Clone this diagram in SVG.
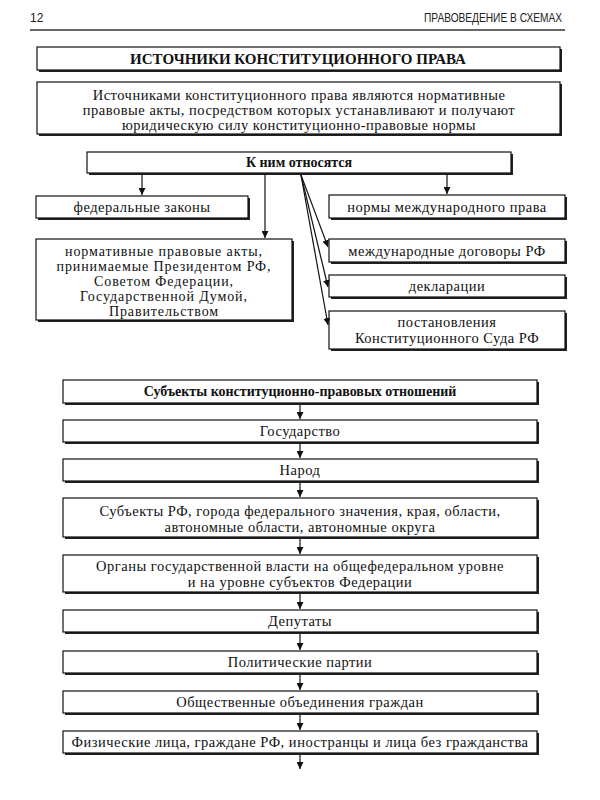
<svg xmlns="http://www.w3.org/2000/svg" width="600" height="800" viewBox="0 0 600 800">
<style>
.bx{fill:#fff;stroke:#111;stroke-width:1.2}
.sh{fill:#222}
.t{font-family:"Liberation Serif","Times New Roman",serif;font-size:14.5px;letter-spacing:0.5px;fill:#111;text-anchor:middle}
.s{font-size:14px;letter-spacing:0.9px}
.b{font-weight:bold;letter-spacing:0}
.hd{font-family:"Liberation Sans",Arial,sans-serif;font-size:12px;fill:#222}
.c{stroke:#111;stroke-width:1.2;fill:none;marker-end:url(#ah)}
</style>
<defs>
<marker id="ah" viewBox="0 0 10 10" refX="10" refY="5" markerWidth="7" markerHeight="7" markerUnits="userSpaceOnUse" orient="auto">
<path d="M0,0 L10,5 L0,10 Z" fill="#111"/>
</marker>
</defs>
<rect width="600" height="800" fill="#fff"/>
<g id="header">
<text class="hd" x="30" y="22">12</text>
<text class="hd" x="562" y="22" text-anchor="end" textLength="138" lengthAdjust="spacingAndGlyphs">ПРАВОВЕДЕНИЕ В СХЕМАХ</text>
<line x1="30" y1="30" x2="565" y2="30" stroke="#666" stroke-width="2"/>
</g>
<g id="title">
<rect class="sh" x="39" y="49" width="523" height="23"/>
<rect class="bx" x="37" y="47" width="523" height="23"/>
<text class="t b" x="298" y="64" style="font-size:15px">ИСТОЧНИКИ КОНСТИТУЦИОННОГО ПРАВА</text>
</g>
<g id="definition">
<rect class="sh" x="39" y="84" width="523" height="52"/>
<rect class="bx" x="37" y="82" width="523" height="52"/>
<text class="t" x="299" y="100">Источниками конституционного права являются нормативные</text>
<text class="t" x="299" y="115">правовые акты, посредством которых устанавливают и получают</text>
<text class="t" x="299" y="130">юридическую силу конституционно-правовые нормы</text>
</g>
<g id="include">
<rect class="sh" x="89" y="154" width="424" height="21"/>
<rect class="bx" x="87" y="152" width="424" height="21"/>
<text class="t b" x="299" y="167" style="font-size:14px">К ним относятся</text>
</g>
<g id="federal">
<rect class="sh" x="38" y="198" width="212" height="22"/>
<rect class="bx" x="36" y="196" width="212" height="22"/>
<text class="t" x="142" y="212">федеральные законы</text>
</g>
<g id="acts">
<rect class="sh" x="38" y="241" width="256" height="81"/>
<rect class="bx" x="36" y="239" width="256" height="81"/>
<text class="t s" x="164" y="256">нормативные правовые акты,</text>
<text class="t s" x="164" y="271">принимаемые Президентом РФ,</text>
<text class="t s" x="164" y="286">Советом Федерации,</text>
<text class="t s" x="164" y="301">Государственной Думой,</text>
<text class="t s" x="164" y="316">Правительством</text>
</g>
<g id="intl">
<rect class="sh" x="331" y="197" width="236" height="23"/>
<rect class="bx" x="329" y="195" width="236" height="23"/>
<text class="t" x="447" y="212">нормы международного права</text>
</g>
<g id="treaties">
<rect class="sh" x="331" y="241" width="236" height="23"/>
<rect class="bx" x="329" y="239" width="236" height="23"/>
<text class="t" x="447" y="256">международные договоры РФ</text>
</g>
<g id="declarations">
<rect class="sh" x="331" y="277" width="236" height="22"/>
<rect class="bx" x="329" y="275" width="236" height="22"/>
<text class="t" x="447" y="291">декларации</text>
</g>
<g id="court">
<rect class="sh" x="331" y="313" width="236" height="38"/>
<rect class="bx" x="329" y="311" width="236" height="38"/>
<text class="t" x="447" y="327">постановления</text>
<text class="t" x="447" y="343">Конституционного Суда РФ</text>
</g>
<g id="subjects-title">
<rect class="sh" x="65" y="382" width="474" height="23"/>
<rect class="bx" x="63" y="380" width="474" height="23"/>
<text class="t b" x="300" y="396" style="font-size:14px">Субъекты конституционно-правовых отношений</text>
</g>
<g id="state">
<rect class="sh" x="65" y="422" width="474" height="22"/>
<rect class="bx" x="63" y="420" width="474" height="22"/>
<text class="t" x="300" y="436">Государство</text>
</g>
<g id="people">
<rect class="sh" x="65" y="461" width="474" height="22"/>
<rect class="bx" x="63" y="459" width="474" height="22"/>
<text class="t" x="300" y="475">Народ</text>
</g>
<g id="regions">
<rect class="sh" x="65" y="500" width="474" height="39"/>
<rect class="bx" x="63" y="498" width="474" height="39"/>
<text class="t" x="300" y="516">Субъекты РФ, города федерального значения, края, области,</text>
<text class="t" x="300" y="532">автономные области, автономные округа</text>
</g>
<g id="authorities">
<rect class="sh" x="65" y="557" width="474" height="37"/>
<rect class="bx" x="63" y="555" width="474" height="37"/>
<text class="t" x="300" y="571">Органы государственной власти на общефедеральном уровне</text>
<text class="t" x="300" y="587">и на уровне субъектов Федерации</text>
</g>
<g id="deputies">
<rect class="sh" x="65" y="612" width="474" height="22"/>
<rect class="bx" x="63" y="610" width="474" height="22"/>
<text class="t" x="300" y="626">Депутаты</text>
</g>
<g id="parties">
<rect class="sh" x="65" y="653" width="474" height="22"/>
<rect class="bx" x="63" y="651" width="474" height="22"/>
<text class="t" x="300" y="667">Политические партии</text>
</g>
<g id="associations">
<rect class="sh" x="65" y="693" width="474" height="22"/>
<rect class="bx" x="63" y="691" width="474" height="22"/>
<text class="t" x="300" y="707">Общественные объединения граждан</text>
</g>
<g id="persons">
<rect class="sh" x="65" y="733" width="474" height="22"/>
<rect class="bx" x="63" y="731" width="474" height="22"/>
<text class="t" x="300" y="747">Физические лица, граждане РФ, иностранцы и лица без гражданства</text>
</g>
<g id="connectors">
<line class="c" x1="142" y1="174" x2="142" y2="195"/>
<line class="c" x1="265" y1="174" x2="265" y2="238"/>
<line class="c" x1="447" y1="174" x2="447" y2="194"/>
<line class="c" x1="301" y1="175" x2="328" y2="247"/>
<line class="c" x1="301" y1="175" x2="328" y2="287"/>
<line class="c" x1="301" y1="175" x2="328" y2="325"/>
<line class="c" x1="300" y1="405" x2="300" y2="419"/>
<line class="c" x1="300" y1="444" x2="300" y2="458"/>
<line class="c" x1="300" y1="483" x2="300" y2="497"/>
<line class="c" x1="300" y1="539" x2="300" y2="554"/>
<line class="c" x1="300" y1="594" x2="300" y2="609"/>
<line class="c" x1="300" y1="634" x2="300" y2="650"/>
<line class="c" x1="300" y1="675" x2="300" y2="690"/>
<line class="c" x1="300" y1="715" x2="300" y2="730"/>
<line class="c" x1="300" y1="755" x2="300" y2="769"/>
</g>
</svg>
